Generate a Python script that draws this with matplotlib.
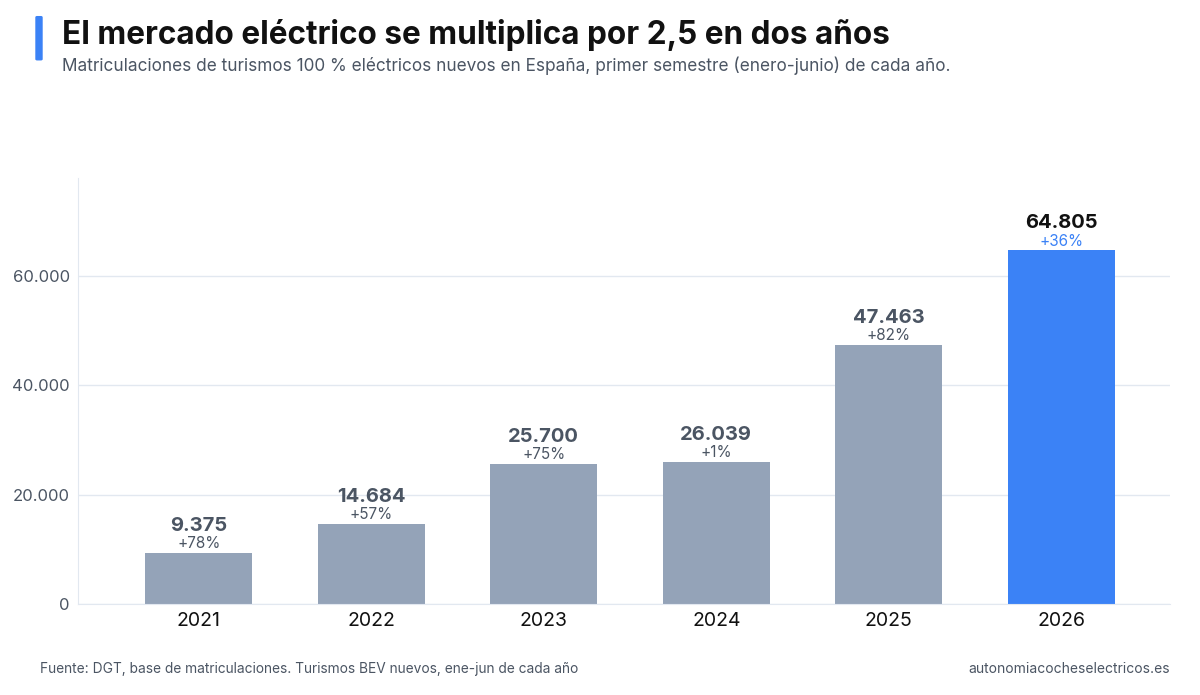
import matplotlib.pyplot as plt
import matplotlib.patches as mpatches

# Datos
anios = ['2021', '2022', '2023', '2024', '2025', '2026']
matriculaciones = [9375, 14684, 25700, 26039, 47463, 64805]
variacion = ['+78%', '+57%', '+75%', '+1%', '+82%', '+36%']
ticks_y = [0, 20000, 40000, 60000]

GRIS = '#94a3b8'
AZUL = '#3b82f6'
TEXTO = '#4b5563'

plt.rcParams['font.family'] = ['Inter', 'DejaVu Sans']

fig = plt.figure(figsize=(12, 6.95), dpi=100)
ax = fig.add_axes([0.065, 0.131, 0.91, 0.613])

x = range(len(anios))
colores = [GRIS] * (len(anios) - 1) + [AZUL]
ax.bar(x, matriculaciones, width=0.62, color=colores, zorder=2)

def fmt(v):
    return f'{v:,}'.replace(',', '.')

for i, v in enumerate(matriculaciones):
    ultimo = i == len(anios) - 1
    ax.annotate(fmt(v), (i, v), xytext=(0, 13), textcoords='offset points',
                ha='center', va='bottom', fontsize=14.5, fontweight='bold',
                color='#111111' if ultimo else TEXTO)
    ax.annotate(variacion[i], (i, v), xytext=(0, 1), textcoords='offset points',
                ha='center', va='bottom', fontsize=11,
                color=AZUL if ultimo else TEXTO)

ax.set_xlim(-0.70, 5.63)
ax.set_ylim(0, 78000)
ax.set_xticks(list(x))
ax.set_xticklabels(anios, fontsize=14, color='#111111')
ax.set_yticks(ticks_y)
ax.set_yticklabels([fmt(t) for t in ticks_y], fontsize=12, color=TEXTO)
ax.tick_params(length=0, pad=6)
ax.grid(axis='y', color='#e2e8f0', lw=1, zorder=0)
for lado in ['top', 'right']:
    ax.spines[lado].set_visible(False)
ax.spines['left'].set_color('#e2e8f0')
ax.spines['bottom'].set_color('#e2e8f0')

# Titulos
fig.patches.append(mpatches.FancyBboxPatch((0.031, 0.915), 0.003, 0.06,
                   boxstyle='round,pad=0.001', color=AZUL,
                   transform=fig.transFigure, figure=fig))
fig.text(0.052, 0.95, 'El mercado eléctrico se multiplica por 2,5 en dos años',
         fontsize=22.7, fontweight='bold', color='#111111', va='center')
fig.text(0.052, 0.905, 'Matriculaciones de turismos 100 % eléctricos nuevos en España, '
         'primer semestre (enero-junio) de cada año.',
         fontsize=12.4, color=TEXTO, va='center')

fig.text(0.033, 0.037, 'Fuente: DGT, base de matriculaciones. Turismos BEV nuevos, '
         'ene-jun de cada año', fontsize=9.9, color=TEXTO, va='center')
fig.text(0.975, 0.037, 'autonomiacocheselectricos.es', fontsize=10,
         color=TEXTO, va='center', ha='right')

fig.savefig('out.png', dpi=100)
